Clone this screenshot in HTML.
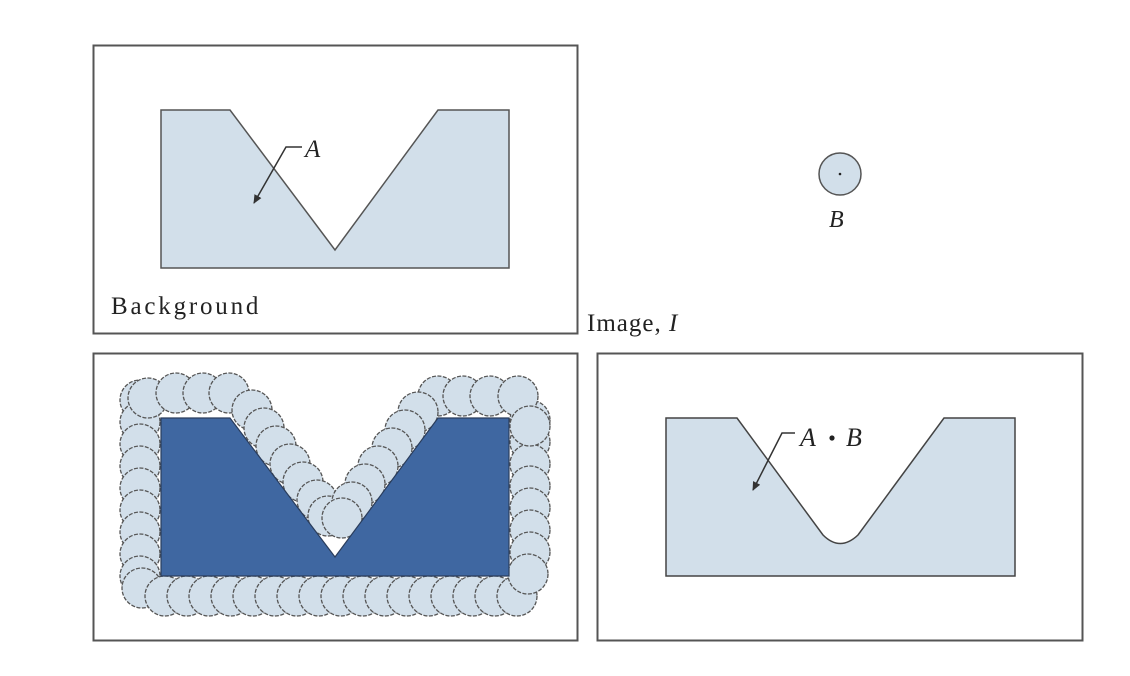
<!DOCTYPE html>
<html><head><meta charset="utf-8"><style>
html,body{margin:0;padding:0;background:#fff;}
svg{display:block;}
text{font-family:"Liberation Serif",serif;fill:#222;}
</style></head><body>
<svg width="1130" height="676" viewBox="0 0 1130 676" xmlns="http://www.w3.org/2000/svg">
<defs>
<marker id="ah" markerWidth="10" markerHeight="10" refX="8" refY="4" orient="auto" markerUnits="userSpaceOnUse">
<path d="M0,0 L9,4 L0,8 Z" fill="#333"/>
</marker>
</defs>
<rect x="93.5" y="45.5" width="484" height="288" fill="#fff" stroke="#555" stroke-width="2"/>
<path d="M161,110 L230,110 L335,250 L438,110 L509,110 L509,268 L161,268 Z" fill="#d2dfea" stroke="#555" stroke-width="1.5"/>
<path d="M302,147 L286,147 L254,203" fill="none" stroke="#333" stroke-width="1.5" marker-end="url(#ah)"/>
<text x="305" y="157" font-size="25" font-style="italic">A</text>
<text x="111" y="314" font-size="25" letter-spacing="2.8">Background</text>

<circle cx="840" cy="174" r="21" fill="#d2dfea" stroke="#555" stroke-width="1.5"/>
<circle cx="840" cy="174" r="1.3" fill="#222"/>
<text x="829" y="227" font-size="24" font-style="italic">B</text>

<text x="587" y="331" font-size="25" letter-spacing="1">Image, <tspan font-style="italic">I</tspan></text>

<rect x="93.5" y="353.5" width="484" height="287" fill="#fff" stroke="#555" stroke-width="2"/>
<g fill="#d2dfea" stroke="#555" stroke-width="1.3" stroke-dasharray="4,1.5">
<circle cx="140" cy="400" r="20"/><circle cx="140" cy="422" r="20"/><circle cx="140" cy="444" r="20"/><circle cx="140" cy="466" r="20"/><circle cx="140" cy="488" r="20"/><circle cx="140" cy="510" r="20"/><circle cx="140" cy="532" r="20"/><circle cx="140" cy="554" r="20"/><circle cx="140" cy="576" r="20"/><circle cx="142" cy="588" r="20"/>
<circle cx="165" cy="596" r="20"/><circle cx="187" cy="596" r="20"/><circle cx="209" cy="596" r="20"/><circle cx="231" cy="596" r="20"/><circle cx="253" cy="596" r="20"/><circle cx="275" cy="596" r="20"/><circle cx="297" cy="596" r="20"/><circle cx="319" cy="596" r="20"/><circle cx="341" cy="596" r="20"/><circle cx="363" cy="596" r="20"/><circle cx="385" cy="596" r="20"/><circle cx="407" cy="596" r="20"/><circle cx="429" cy="596" r="20"/><circle cx="451" cy="596" r="20"/><circle cx="473" cy="596" r="20"/><circle cx="495" cy="596" r="20"/><circle cx="517" cy="596" r="20"/>
<circle cx="530" cy="420" r="20"/><circle cx="530" cy="442" r="20"/><circle cx="530" cy="464" r="20"/><circle cx="530" cy="486" r="20"/><circle cx="530" cy="508" r="20"/><circle cx="530" cy="530" r="20"/><circle cx="530" cy="552" r="20"/><circle cx="528" cy="574" r="20"/>
<circle cx="148" cy="398" r="20"/><circle cx="176" cy="393" r="20"/><circle cx="203" cy="393" r="20"/><circle cx="229" cy="393" r="20"/>
<circle cx="438" cy="396" r="20"/><circle cx="463" cy="396" r="20"/><circle cx="490" cy="396" r="20"/><circle cx="518" cy="396" r="20"/><circle cx="530" cy="426" r="20"/>
<circle cx="252" cy="410" r="20"/><circle cx="264" cy="428" r="20"/><circle cx="276" cy="446" r="20"/><circle cx="290" cy="464" r="20"/><circle cx="303" cy="482" r="20"/><circle cx="317" cy="500" r="20"/><circle cx="328" cy="516" r="20"/>
<circle cx="418" cy="412" r="20"/><circle cx="405" cy="430" r="20"/><circle cx="392" cy="448" r="20"/><circle cx="378" cy="466" r="20"/><circle cx="365" cy="484" r="20"/><circle cx="352" cy="502" r="20"/><circle cx="342" cy="518" r="20"/>
</g>
<path d="M161,418 L230,418 L335,557 L438,418 L509,418 L509,576 L161,576 Z" fill="#3f67a1" stroke="#2a3d5c" stroke-width="1.2"/>

<rect x="597.5" y="353.5" width="485" height="287" fill="#fff" stroke="#555" stroke-width="2"/>
<path d="M666,418 L737,418 L823,535 Q840,552 858,535 L944,418 L1015,418 L1015,576 L666,576 Z" fill="#d2dfea" stroke="#444" stroke-width="1.5"/>
<path d="M795,433 L782,433 L753,490" fill="none" stroke="#333" stroke-width="1.5" marker-end="url(#ah)"/>
<text x="800" y="446" font-size="26" font-style="italic">A</text>
<circle cx="832" cy="438" r="2.6" fill="#222"/>
<text x="846" y="446" font-size="26" font-style="italic">B</text>
</svg>
</body></html>
